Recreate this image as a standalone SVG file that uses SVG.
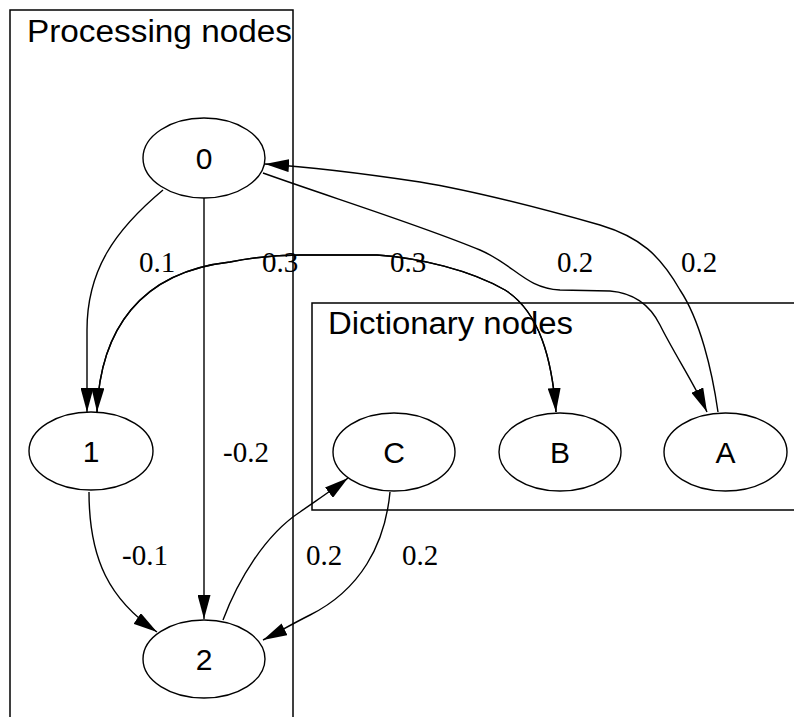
<svg xmlns="http://www.w3.org/2000/svg" width="794" height="717" viewBox="0 0 794 717">
<defs>
<style>
.cluster{fill:none;stroke:#000;stroke-width:1.5}
.ctitle{font-family:"Liberation Sans",Arial,sans-serif;font-size:31px;fill:#000}
.node ellipse{fill:#fff;stroke:#000;stroke-width:1.4}
.node text{font-family:"Liberation Sans",Arial,sans-serif;font-size:30px;fill:#000;text-anchor:middle}
.edge{fill:none;stroke:#000;stroke-width:1.4}
.elabel{font-family:"Liberation Serif","Times New Roman",serif;font-size:29px;fill:#000}
</style>
<marker id="arr" markerUnits="userSpaceOnUse" markerWidth="24" markerHeight="13" refX="24" refY="6.5" orient="auto" viewBox="0 0 24 13">
<path d="M0,0 L24,6.5 L0,13 z" fill="#000"/>
</marker>
<marker id="arrs" markerUnits="userSpaceOnUse" markerWidth="24" markerHeight="13" refX="24" refY="6.5" orient="auto-start-reverse" viewBox="0 0 24 13">
<path d="M0,0 L24,6.5 L0,13 z" fill="#000"/>
</marker>
</defs>
<rect width="794" height="717" fill="#fff"/>
<g id="cluster_processing">
<rect class="cluster" x="10" y="10" width="283" height="720"/>
<text class="ctitle" x="27" y="42" textLength="265" lengthAdjust="spacingAndGlyphs">Processing nodes</text>
</g>
<g id="cluster_dictionary">
<rect class="cluster" x="312" y="303" width="500" height="207"/>
<text class="ctitle" x="328" y="334" textLength="245" lengthAdjust="spacingAndGlyphs">Dictionary nodes</text>
</g>
<g id="edges">
<path class="edge" d="M163,190 C115,230 87,270 87,330 L87,412" marker-end="url(#arr)"/>
<path class="edge" d="M97,412 C100,330 140,272 230,262 C250,258 270,255 300,255 L377,255 C420,258 470,270 505,290 C540,312 552,360 556,412" marker-end="url(#arr)"/>
<path class="edge" d="M97,412 C100,330 140,272 230,262 C250,258 270,255 300,255 L377,255 C420,258 470,270 505,290 C540,312 552,360 556,412" marker-start="url(#arrs)"/>
<path class="edge" d="M204,198 L204,619" marker-end="url(#arr)"/>
<path class="edge" d="M263,173 C330,197 420,225 480,250 C515,265 525,288 560,290 L610,291 C635,293 650,305 660,325 C675,355 695,385 707,412" marker-end="url(#arr)"/>
<path class="edge" d="M718,412 C712,370 700,320 680,290 C660,255 640,237 600,225 C540,208 480,192 420,182 C360,173 310,167 265,164" marker-end="url(#arr)"/>
<path class="edge" d="M89,492 C89,560 110,600 157,632" marker-end="url(#arr)"/>
<path class="edge" d="M223,620 C238,580 265,535 300,512 C320,498 335,488 348,478" marker-end="url(#arr)"/>
<path class="edge" d="M390,492 C385,545 360,590 310,615 C290,625 275,634 263,640" marker-end="url(#arr)"/>
<text class="elabel" x="139" y="272">0.1</text>
<text class="elabel" x="262" y="272">0.3</text>
<text class="elabel" x="390" y="272">0.3</text>
<text class="elabel" x="557" y="272">0.2</text>
<text class="elabel" x="681" y="272">0.2</text>
<text class="elabel" x="223" y="462">-0.2</text>
<text class="elabel" x="122" y="565">-0.1</text>
<text class="elabel" x="306" y="565">0.2</text>
<text class="elabel" x="402" y="565">0.2</text>
</g>
<g id="node0" class="node"><ellipse cx="204" cy="158" rx="61" ry="40"/><text x="204" y="169">0</text></g>
<g id="node1" class="node"><ellipse cx="91" cy="451" rx="62" ry="39"/><text x="91" y="462">1</text></g>
<g id="node2" class="node"><ellipse cx="204" cy="659" rx="61" ry="39"/><text x="204" y="670">2</text></g>
<g id="nodeC" class="node"><ellipse cx="394" cy="452" rx="61" ry="39"/><text x="394" y="463">C</text></g>
<g id="nodeB" class="node"><ellipse cx="560" cy="452" rx="61" ry="39"/><text x="560" y="463">B</text></g>
<g id="nodeA" class="node"><ellipse cx="725.5" cy="452" rx="61.5" ry="39"/><text x="725.5" y="463">A</text></g>
</svg>
